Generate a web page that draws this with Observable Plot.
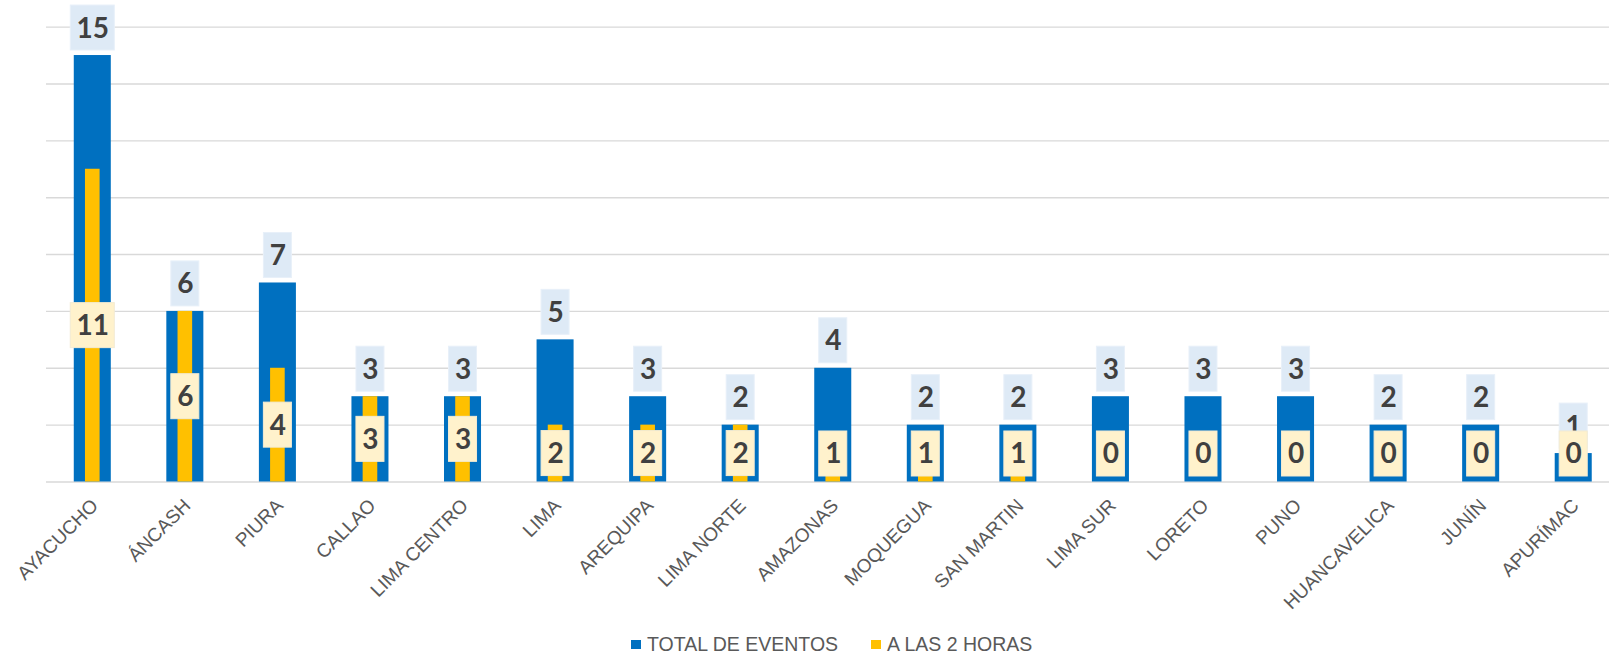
<!DOCTYPE html>
<html>
<head>
<meta charset="utf-8">
<script src="https://cdn.jsdelivr.net/npm/d3@7"></script>
<script src="https://cdn.jsdelivr.net/npm/@observablehq/plot@0.6"></script>
<style>
  html, body { margin: 0; padding: 0; background: #fff; overflow: hidden; }
  #chart svg { display: block; overflow: hidden; }
  #legend { height: 32px; display: flex; align-items: center; padding-left: 631px;
    font-family: "Liberation Sans", Arial, sans-serif; font-size: 19.5px; color: #595959; white-space: nowrap; }
  #legend .sw { width: 10px; height: 9px; display: inline-block; margin-right: 6px; }
  #legend .item { display: flex; align-items: center; margin-right: 33px; }
</style>
</head>
<body>
<div id="chart"></div>
<div id="legend">
  <span class="item"><span class="sw" style="background:#0070C0"></span>TOTAL DE EVENTOS</span>
  <span class="item"><span class="sw" style="background:#FFC000"></span>A LAS 2 HORAS</span>
</div>
<script>
const categories = ["AYACUCHO","ÁNCASH","PIURA","CALLAO","LIMA CENTRO","LIMA","AREQUIPA","LIMA NORTE","AMAZONAS","MOQUEGUA","SAN MARTIN","LIMA SUR","LORETO","PUNO","HUANCAVELICA","JUNÍN","APURÍMAC"];
const totalEventos = [15,6,7,3,3,5,3,2,4,2,2,3,3,3,2,2,1];
const aLas2Horas = [11,6,4,3,3,2,2,2,1,1,1,0,0,0,0,0,0];
const gridTicks = [0,2,4,6,8,10,12,14,16];

const seriesNames = ["TOTAL DE EVENTOS", "A LAS 2 HORAS"];
const colors = ["#0070C0", "#FFC000"];

const rows = categories.map((c, i) => ({cat: c, total: totalEventos[i], h2: aLas2Horas[i]}));

const W = 1609, H = 628;
const labelFont = "Lato, 'Open Sans', sans-serif";
// yellow label sits at the middle of its bar, kept inside the plot near the baseline
const h2LabelY = d => Math.max(d.h2 / 2, 0.985);
const isWide = v => String(v).length > 1;

const chart = Plot.plot({
  width: W,
  height: H,
  marginLeft: 46,
  marginRight: 0,
  marginTop: 26.6,
  marginBottom: H - 481.5,
  x: {type: "band", domain: categories, range: [46, 1619.5], paddingInner: 0.6, paddingOuter: 0.3, round: false, axis: null},
  y: {domain: [0, 16], axis: null},
  marks: [
    Plot.ruleY(gridTicks.filter(t => t > 0), {stroke: "#D9D9D9", strokeWidth: 1.4}),
    Plot.ruleY([0], {stroke: "#D9D9D9", strokeWidth: 1.7}),
    Plot.barY(rows, {x: "cat", y: "total", fill: colors[0]}),
    Plot.barY(rows, {x: "cat", y: "h2", fill: colors[1], insetLeft: 11.2, insetRight: 11.2}),
    // total label boxes
    Plot.barY(rows.filter(d => !isWide(d.total)), {x: "cat", y1: "total", y2: "total", insetTop: -50, insetBottom: 5, insetLeft: 4.5, insetRight: 4.5, fill: "#DEEAF6", stroke: "#E8F0F9", strokeWidth: 1}),
    Plot.barY(rows.filter(d => isWide(d.total)), {x: "cat", y1: "total", y2: "total", insetTop: -50, insetBottom: 5, insetLeft: -3.5, insetRight: -3.5, fill: "#DEEAF6", stroke: "#E8F0F9", strokeWidth: 1}),
    Plot.text(rows, {x: "cat", y: "total", text: d => String(d.total), dy: -27, fontSize: 28, fontWeight: "bold", fill: "#404040", fontFamily: labelFont, textAnchor: "middle", lineAnchor: "middle"}),
    // 2-hour label boxes
    Plot.barY(rows.filter(d => !isWide(d.h2)), {x: "cat", y1: h2LabelY, y2: h2LabelY, insetTop: -22.5, insetBottom: -22.5, insetLeft: 4.5, insetRight: 4.5, fill: "#FFF2CC", stroke: "#F3EBD3", strokeWidth: 1}),
    Plot.barY(rows.filter(d => isWide(d.h2)), {x: "cat", y1: h2LabelY, y2: h2LabelY, insetTop: -22.5, insetBottom: -22.5, insetLeft: -3.5, insetRight: -3.5, fill: "#FFF2CC", stroke: "#F3EBD3", strokeWidth: 1}),
    Plot.text(rows, {x: "cat", y: h2LabelY, text: d => String(d.h2), dy: 0.5, fontSize: 28, fontWeight: "bold", fill: "#404040", fontFamily: labelFont, textAnchor: "middle", lineAnchor: "middle"}),
    // category labels along the x scale
    Plot.text(rows, {x: "cat", y: () => 0, text: "cat", rotate: -45, textAnchor: "end", lineAnchor: "middle", dx: 2, dy: 20.5, fontSize: 19, fill: "#595959", fontFamily: "'Liberation Sans', Arial, sans-serif"})
  ]
});
document.getElementById("chart").appendChild(chart);
</script>
</body>
</html>
